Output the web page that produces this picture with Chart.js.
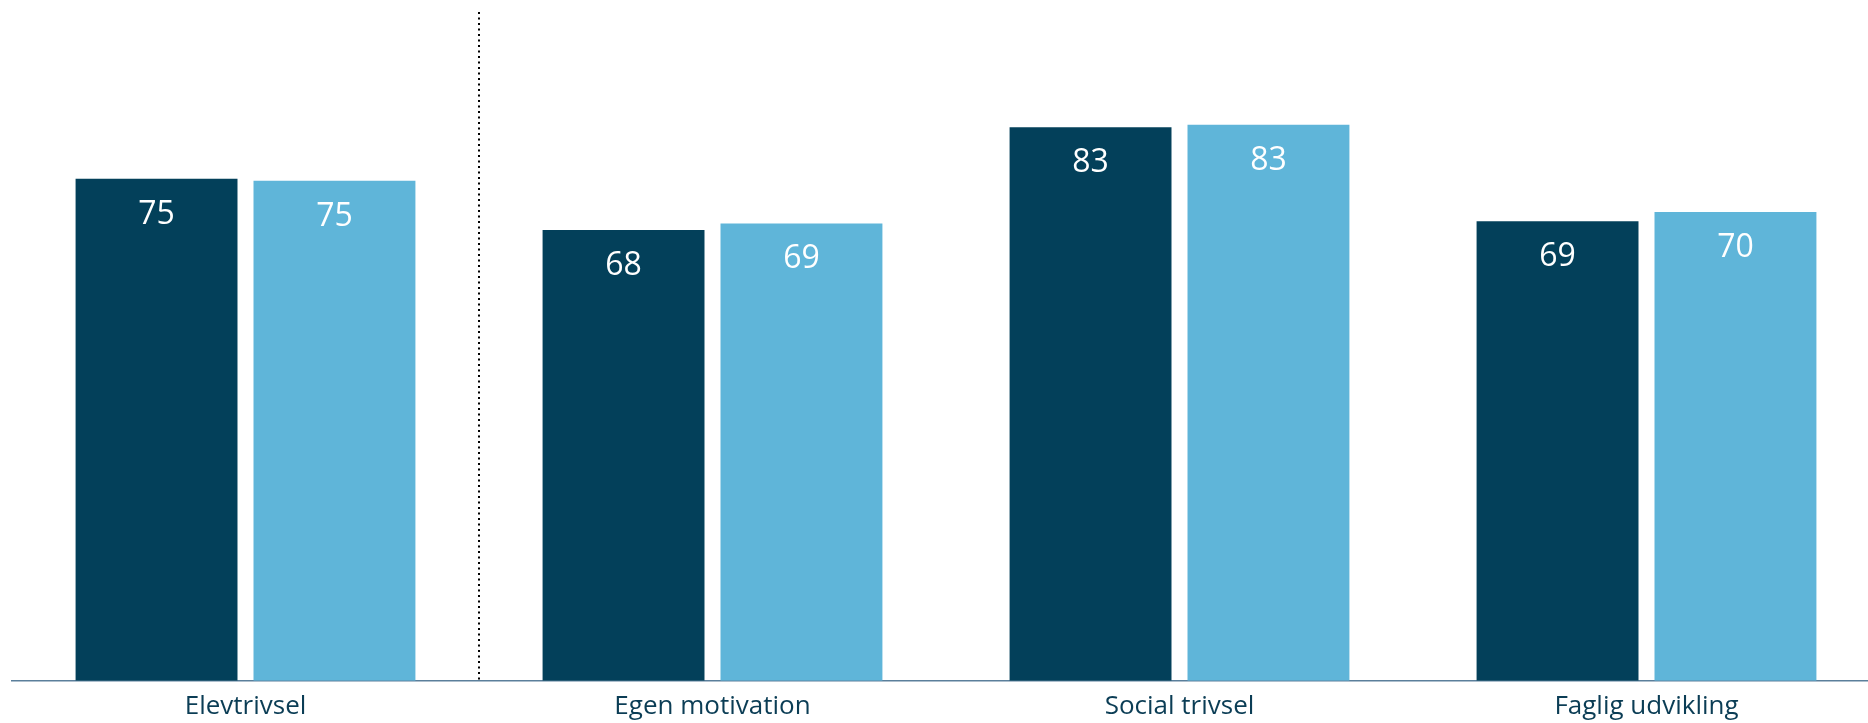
<!DOCTYPE html>
<html lang="da">
<head>
<meta charset="UTF-8">
<title>Trivsel</title>
<script src="https://cdn.jsdelivr.net/npm/chart.js"></script>
<style>
    html, body {
        margin: 0;
        padding: 0;
        background: #fff;
        overflow: hidden;
    }
    .chart-box {
        width: 1880px;
        height: 733px;
        position: relative;
    }
</style>
</head>
<body>

<div class="chart-box">
    <canvas id="grafTrivsel"></canvas>
</div>

<script>
    // data
    const kategorier = ['Elevtrivsel', 'Egen motivation', 'Social trivsel', 'Faglig udvikling'];
    const skole = [75.3, 67.6, 83.0, 68.9];
    const landet = [75.0, 68.6, 83.4, 70.3];

    const MORK = '#03405a';
    const LYS = '#5fb5d9';

    // tal inde i søjlerne
    const vaerdiPlugin = {
        id: 'vaerdier',
        afterDatasetsDraw(chart) {
            const ctx = chart.ctx;
            ctx.save();
            ctx.fillStyle = '#fff';
            ctx.font = '32px "Open Sans"';
            ctx.textAlign = 'center';
            ctx.textBaseline = 'middle';
            chart.data.datasets.forEach((ds, i) => {
                chart.getDatasetMeta(i).data.forEach((bar, j) => {
                    ctx.fillText(Math.round(ds.data[j]), bar.x, bar.y + 36);
                });
            });
            ctx.restore();
        }
    };

    // prikket skillelinje efter første kategori
    const skillePlugin = {
        id: 'skille',
        afterDatasetsDraw(chart) {
            const x = chart.scales.x;
            const px = Math.round((x.getPixelForValue(0) + x.getPixelForValue(1)) / 2);
            const ctx = chart.ctx;
            ctx.save();
            ctx.strokeStyle = '#000';
            ctx.lineWidth = 2;
            ctx.setLineDash([2, 3.5]);
            ctx.beginPath();
            ctx.moveTo(px, chart.chartArea.top - 2);
            ctx.lineTo(px, chart.chartArea.bottom);
            ctx.stroke();
            ctx.restore();
        }
    };

    new Chart(grafTrivsel, {
        type: 'bar',
        data: {
            labels: kategorier,
            datasets: [
                { label: 'Skolen', data: skole, backgroundColor: MORK },
                { label: 'Landsplan', data: landet, backgroundColor: LYS }
            ]
        },
        options: {
            responsive: true,
            maintainAspectRatio: false,
            animation: false,
            categoryPercentage: 0.762,
            barPercentage: 0.91,
            layout: { padding: { top: 14, bottom: 1, left: 12, right: 0 } },
            plugins: {
                legend: { display: false },
                tooltip: { enabled: false }
            },
            scales: {
                y: { display: false, min: 0, max: 100 },
                x: {
                    grid: { display: false, drawTicks: false },
                    border: { display: true, color: '#5b7f9b', width: 1.5 },
                    ticks: {
                        color: '#0b3d55',
                        padding: 10,
                        font: { family: '"Open Sans"', size: 26 }
                    }
                }
            }
        },
        plugins: [vaerdiPlugin, skillePlugin]
    });
</script>

</body>
</html>
